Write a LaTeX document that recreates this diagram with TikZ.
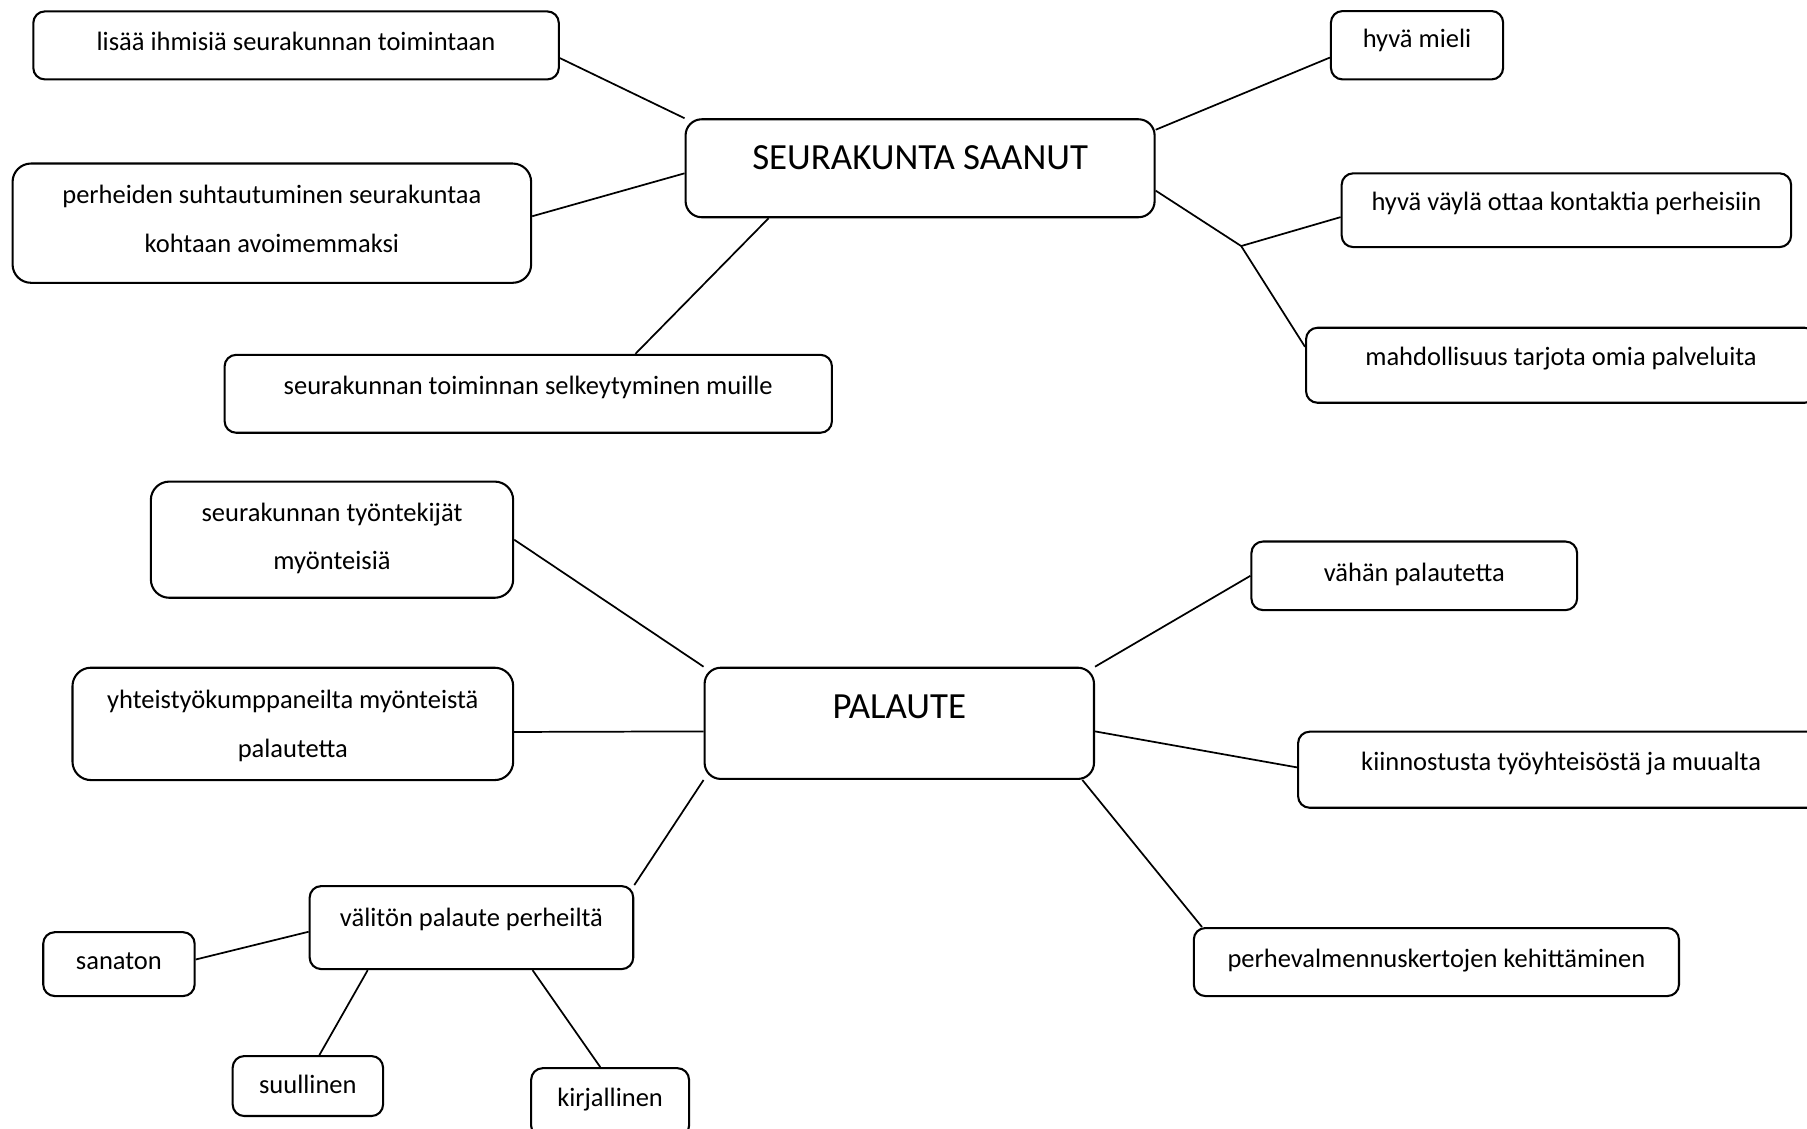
\documentclass[tikz,border=0pt]{standalone}
\usepackage{fontspec}
\setmainfont{Carlito}
\usetikzlibrary{calc}

\begin{document}
\begin{tikzpicture}[x=0.5pt, y=-0.5pt,
    box/.style={draw, line width=0.9pt, rounded corners=5pt, inner sep=0pt, anchor=north west, align=center, font=\fontsize{11.5}{21}\selectfont},
    bigbox/.style={box, rounded corners=7pt, font=\fontsize{16}{19}\selectfont},
    link/.style={line width=0.75pt}]
  \useasboundingbox (0,0) rectangle (1568,979);
  \clip (0,0) rectangle (1568,979);

  \node[box, minimum width=228pt, text height=17pt, text depth=12.5pt] (lisaa) at (28,9) {lisää ihmisiä seurakunnan toimintaan};
  \node[bigbox, minimum width=203.5pt, text height=22pt, text depth=20.5pt] (seur) at (594,102.6) {SEURAKUNTA SAANUT};
  \node[box, rounded corners=8pt, minimum width=225pt, text height=38.5pt, text depth=13.25pt] (perh) at (10,141) {perheiden suhtautuminen seurakuntaa\\kohtaan avoimemmaksi};
  \node[box, minimum width=263.5pt, text height=17pt, text depth=16.8pt] (selk) at (194,307) {seurakunnan toiminnan selkeytyminen muille};
  \node[box, minimum width=74.7pt, text height=16pt, text depth=13.65pt] (mieli) at (1154,8.7) {hyvä mieli};
  \node[box, minimum width=195pt, text height=16.25pt, text depth=15.75pt] (vayla) at (1163.3,149.5) {hyvä väylä ottaa kontaktia perheisiin};
  \node[box, minimum width=221.3pt, text height=16.5pt, text depth=16.05pt] (mahd) at (1132.4,283.5) {mahdollisuus tarjota omia palveluita};
  \coordinate (haara) at (1077,213.5);

  \node[box, rounded corners=8pt, minimum width=157.2pt, text height=38.35pt, text depth=12.05pt] (tyon) at (130,417) {seurakunnan työntekijät\\myönteisiä};
  \node[box, rounded corners=8pt, minimum width=191.2pt, text height=38.75pt, text depth=10pt] (yhteis) at (62,578.5) {yhteistyökumppaneilta myönteistä\\palautetta};
  \node[bigbox, minimum width=168.95pt, text height=22.15pt, text depth=26.1pt] (pal) at (610.5,578.5) {PALAUTE};
  \node[box, minimum width=141.3pt, text height=17.15pt, text depth=12.6pt] (vahan) at (1085,469) {vähän palautetta};
  \node[box, minimum width=228.25pt, text height=17pt, text depth=16pt] (kiin) at (1125.5,634) {kiinnostusta työyhteisöstä ja muualta};
  \node[box, minimum width=210.5pt, text height=17.2pt, text depth=12.3pt] (perhev) at (1035,804.4) {perhevalmennuskertojen kehittäminen};
  \node[box, minimum width=140.4pt, text height=17.35pt, text depth=18.65pt] (valiton) at (267.8,768) {välitön palaute perheiltä};
  \node[box, minimum width=65.7pt, text height=16pt, text depth=11.7pt] (sanaton) at (36.6,808) {sanaton};
  \node[box, minimum width=65.25pt, text height=16.25pt, text depth=9.75pt] (suul) at (201,915.5) {suullinen};
  \node[box, minimum width=68.5pt, text height=16.5pt, text depth=13.5pt] (kirj) at (460,926) {kirjallinen};

  \draw[link] ([shift={(0,11)}]lisaa.east) -- (seur.north west);
  \draw[link] ([shift={(0,-6)}]perh.east) -- ([shift={(0,4.4)}]seur.west);
  \draw[link] ([shift={(93,0)}]selk.north) -- ([shift={(-131.5,0)}]seur.south);
  \draw[link] ([shift={(0,10)}]seur.north east) -- ([shift={(0,10.7)}]mieli.west);
  \draw[link] ([shift={(0,-24)}]seur.south east) -- (haara);
  \draw[link] (haara) -- ([shift={(0,6)}]vayla.west);
  \draw[link] (haara) -- ([shift={(0,-16)}]mahd.west);

  \draw[link] (tyon.east) -- (pal.north west);
  \draw[link] ([shift={(0,7)}]yhteis.east) -- ([shift={(0,7)}]pal.west);
  \draw[link] (pal.south west) -- (valiton.north east);
  \draw[link] (pal.north east) -- (vahan.west);
  \draw[link] ([shift={(0,7)}]pal.east) -- ([shift={(0,-2)}]kiin.west);
  \draw[link] ([shift={(-11,0)}]pal.south east) -- ([shift={(8,0)}]perhev.north west);
  \draw[link] ([shift={(0,3.6)}]valiton.west) -- ([shift={(0,-4)}]sanaton.east);
  \draw[link] ([shift={(-90,0)}]valiton.south) -- ([shift={(10,0)}]suul.north);
  \draw[link] ([shift={(53,0)}]valiton.south) -- ([shift={(-8.5,0)}]kirj.north);
\end{tikzpicture}
\end{document}
